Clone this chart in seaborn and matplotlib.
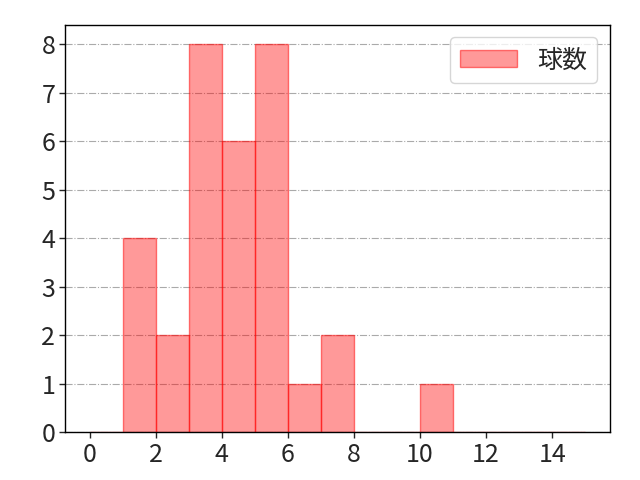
import matplotlib
matplotlib.use("Agg")
import matplotlib.pyplot as plt
import seaborn as sns
import numpy as np

bin_starts = [1, 2, 3, 4, 5, 6, 7, 8, 9, 10]
counts = [4, 2, 8, 6, 8, 1, 2, 0, 0, 1]
bin_edges = list(range(0, 16))
x_ticks = [0, 2, 4, 6, 8, 10, 12, 14]
y_ticks = [0, 1, 2, 3, 4, 5, 6, 7, 8]
label = "球数"

sns.set_style("ticks")
plt.rcParams['font.family'] = ['Noto Sans CJK JP', 'DejaVu Sans']

fig, ax = plt.subplots(figsize=(6.4, 4.8), dpi=100)
fig.subplots_adjust(left=0.1016, right=0.953, top=0.948, bottom=0.1)

sns.histplot(x=bin_starts, weights=counts, bins=bin_edges, ax=ax,
             color="red", alpha=0.4, edgecolor=(1, 0, 0, 0.5), linewidth=1,
             label=label)

ax.set_xlim(-0.75, 15.75)
ax.set_ylim(0, 8.4)
ax.set_xticks(x_ticks)
ax.set_yticks(y_ticks)
ax.tick_params(labelsize=18, width=1, length=4, direction="out", pad=3)
ax.set_xlabel("")
ax.set_ylabel("")
ax.yaxis.grid(True, linestyle="-.", color="#aaaaaa", linewidth=0.8)
ax.set_axisbelow(True)
for s in ax.spines.values():
    s.set_visible(True)
    s.set_color("black")
    s.set_linewidth(1)
ax.legend(loc="upper right", fontsize=18, frameon=True, handlelength=2.3)

fig.savefig("out.png", dpi=100)
